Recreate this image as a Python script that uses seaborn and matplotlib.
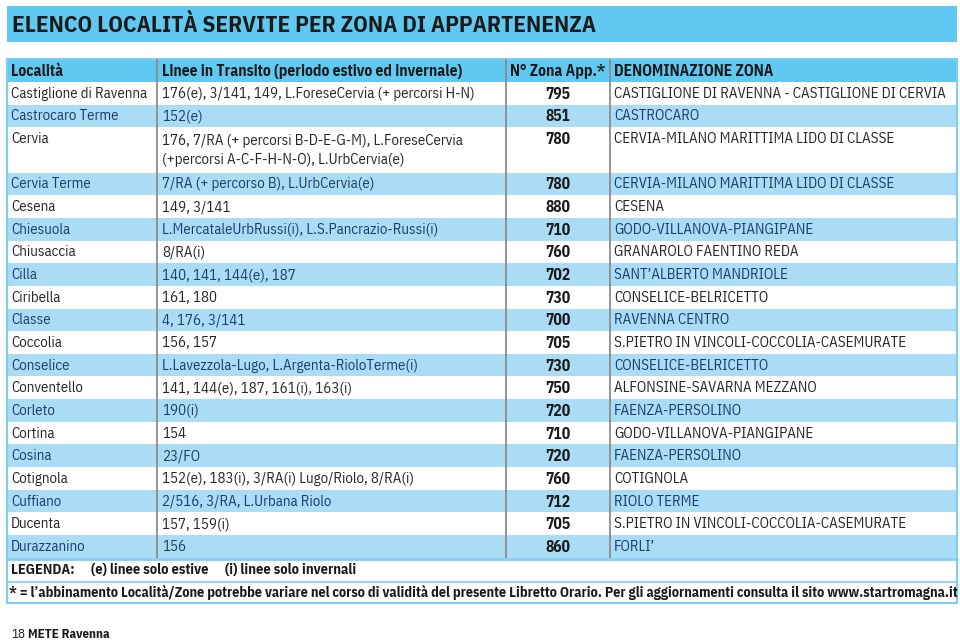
import matplotlib
matplotlib.use("Agg")
import matplotlib.pyplot as plt
import seaborn as sns
from matplotlib.patches import Rectangle

# ---------------- data ----------------
title = "ELENCO LOCALITÀ SERVITE PER ZONA DI APPARTENENZA"
headers = ["Località", "Linee in Transito (periodo estivo ed invernale)",
           "N° Zona App.*", "DENOMINAZIONE ZONA"]
localita = ["Castiglione di Ravenna", "Castrocaro Terme", "Cervia", "Cervia Terme",
            "Cesena", "Chiesuola", "Chiusaccia", "Cilla", "Ciribella", "Classe",
            "Coccolia", "Conselice", "Conventello", "Corleto", "Cortina", "Cosina",
            "Cotignola", "Cuffiano", "Ducenta", "Durazzanino"]
linee = ["176(e), 3/141, 149, L.ForeseCervia (+ percorsi H-N)",
         "152(e)",
         "176, 7/RA (+ percorsi B-D-E-G-M), L.ForeseCervia\n(+percorsi A-C-F-H-N-O), L.UrbCervia(e)",
         "7/RA (+ percorso B), L.UrbCervia(e)",
         "149, 3/141",
         "L.MercataleUrbRussi(i), L.S.Pancrazio-Russi(i)",
         "8/RA(i)",
         "140, 141, 144(e), 187",
         "161, 180",
         "4, 176, 3/141",
         "156, 157",
         "L.Lavezzola-Lugo, L.Argenta-RioloTerme(i)",
         "141, 144(e), 187, 161(i), 163(i)",
         "190(i)",
         "154",
         "23/FO",
         "152(e), 183(i), 3/RA(i) Lugo/Riolo, 8/RA(i)",
         "2/516, 3/RA, L.Urbana Riolo",
         "157, 159(i)",
         "156"]
zona = ["795", "851", "780", "780", "880", "710", "760", "702", "730", "700",
        "705", "730", "750", "720", "710", "720", "760", "712", "705", "860"]
denominazione = ["CASTIGLIONE DI RAVENNA - CASTIGLIONE DI CERVIA", "CASTROCARO",
                 "CERVIA-MILANO MARITTIMA LIDO DI CLASSE",
                 "CERVIA-MILANO MARITTIMA LIDO DI CLASSE", "CESENA",
                 "GODO-VILLANOVA-PIANGIPANE", "GRANAROLO FAENTINO REDA",
                 "SANT’ALBERTO MANDRIOLE", "CONSELICE-BELRICETTO", "RAVENNA CENTRO",
                 "S.PIETRO IN VINCOLI-COCCOLIA-CASEMURATE", "CONSELICE-BELRICETTO",
                 "ALFONSINE-SAVARNA MEZZANO", "FAENZA-PERSOLINO",
                 "GODO-VILLANOVA-PIANGIPANE", "FAENZA-PERSOLINO", "COTIGNOLA",
                 "RIOLO TERME", "S.PIETRO IN VINCOLI-COCCOLIA-CASEMURATE", "FORLI’"]
legenda_parts = ["LEGENDA:", "(e) linee solo estive", "(i) linee solo invernali"]
nota = ("* = l’abbinamento Località/Zone potrebbe variare nel corso di validità del "
        "presente Libretto Orario. Per gli aggiornamenti consulta il sito www.startromagna.it")
page_num = "18"
page_label = "METE Ravenna"

# ---------------- style ----------------
sns.set_theme(style="white")
FONT = ["IBM Plex Sans Condensed", "DejaVu Sans"]
plt.rcParams["font.family"] = FONT

HEAD = "#5fc9f1"
STRIPE = "#aadcf5"
BORDER = "#7dd0f2"
DIV = "#8c8c8c"
TXT = "#262626"
TXT_BLUE = "#1f3d6b"
DARK = "#1a1a1a"

W, H = 960, 644
fig = plt.figure(figsize=(9.6, 6.44), dpi=100)
ax = fig.add_axes([0, 0, 1, 1])
ax.set_xlim(0, W)
ax.set_ylim(H, 0)
ax.axis("off")
renderer = fig.canvas.get_renderer()


def fit_size(s, target_px, weight="normal"):
    """font size that makes string s about target_px wide"""
    t = ax.text(0, 0, s, fontsize=10, fontweight=weight)
    w = t.get_window_extent(renderer).width
    t.remove()
    return 10 * target_px / w


BODY_W = 400
fs_body = fit_size("Castiglione di Ravenna", 136, BODY_W)
fs_head = fit_size(headers[1], 300, "bold")
fs_title = fit_size(title, 588, "bold")
fs_num = fit_size("795", 25, "bold")
fs_leg = fit_size(legenda_parts[2], 130, "bold")
fs_note = fit_size(nota, 942, "bold")
fs_foot = fit_size(page_label, 82, "bold")

L, R = 7, 957
cols = [L, 157, 506, 610, R]

# title band
ax.add_patch(Rectangle((L, 6), R - L, 36, color=HEAD, lw=0))
ax.text(12, 24.5, title, fontsize=fs_title, fontweight="bold", color=DARK,
        va="center", ha="left")

# header
top = 59
row_h = 22.65
ax.add_patch(Rectangle((L, top), R - L, 23, color=HEAD, lw=0))
hx = [11, 162, None, 614]
for i, h in enumerate(headers):
    if i == 2:
        ax.text((cols[2] + cols[3]) / 2, top + 12, h, fontsize=fs_head, fontweight="bold",
                color=DARK, va="center", ha="center")
    else:
        ax.text(hx[i], top + 12, h, fontsize=fs_head, fontweight="bold",
                color=DARK, va="center", ha="left")

y = top + 23
for i in range(len(localita)):
    nlines = linee[i].count("\n") + 1
    h = row_h * nlines
    blue = (i % 2 == 1)
    if blue:
        ax.add_patch(Rectangle((L, y), R - L, h, color=STRIPE, lw=0))
    c = TXT_BLUE if blue else TXT
    yc = y + row_h / 2 + 0.5
    ax.text(11, yc, localita[i], fontsize=fs_body, fontweight=BODY_W, color=c,
            va="center", ha="left")
    ax.text(162, yc if nlines == 1 else y + h / 2 + 0.5, linee[i], fontsize=fs_body,
            fontweight=BODY_W, color=c, va="center", ha="left", linespacing=1.4)
    ax.text((cols[2] + cols[3]) / 2, yc + 0.5, zona[i], fontsize=fs_num,
            fontweight="bold", color=DARK, va="center", ha="center")
    ax.text(614, yc, denominazione[i], fontsize=fs_body, fontweight=BODY_W, color=c,
            va="center", ha="left")
    y += h
table_bottom = y

# vertical dividers
for x in cols[1:4]:
    ax.plot([x, x], [top, table_bottom], color=DIV, lw=1.3, solid_capstyle="butt")

# legend + note rows
ax.plot([L, R], [table_bottom + 1, table_bottom + 1], color=BORDER, lw=2)
for px, s in zip([11, 91, 225], legenda_parts):
    ax.text(px, table_bottom + 12.5, s, fontsize=fs_leg, fontweight="bold",
            color=DARK, va="center", ha="left")
ax.plot([L, R], [table_bottom + 24, table_bottom + 24], color=BORDER, lw=1.2)
ax.text(9, table_bottom + 34.5, nota, fontsize=fs_note, fontweight="bold",
        color=DARK, va="center", ha="left")
bottom = table_bottom + 45

# outer border
ax.add_patch(Rectangle((L, top), R - L, bottom - top, fill=False, ec=BORDER, lw=1.6))

# page footer
ax.text(11, 635, page_num, fontsize=fs_foot, color=DARK, va="center", ha="left")
ax.text(28, 635, page_label, fontsize=fs_foot, fontweight="bold", color=DARK,
        va="center", ha="left")

fig.savefig("out.png", dpi=100)
